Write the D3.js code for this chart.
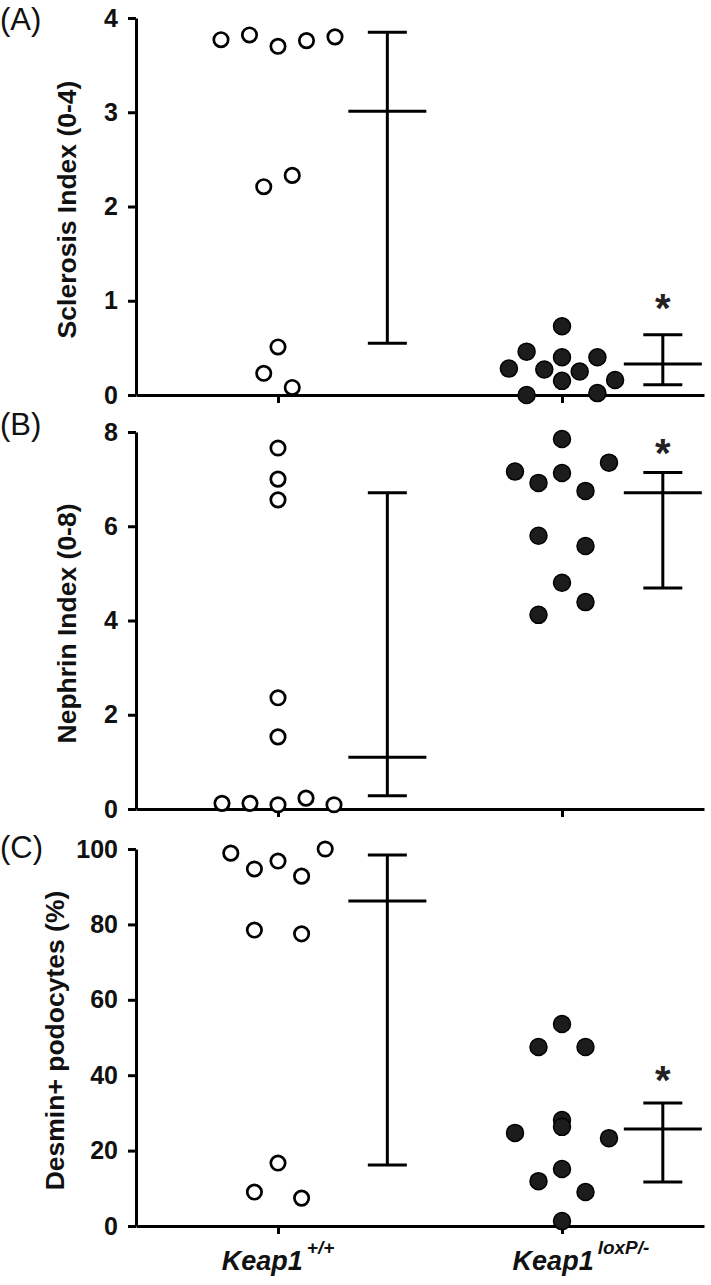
<!DOCTYPE html>
<html><head><meta charset="utf-8">
<script src="https://cdn.jsdelivr.net/npm/d3@7"></script>
<style>body{margin:0;background:#fff}svg{display:block}</style>
</head><body>
<svg id="chart" width="711" height="1285"></svg>
<script>
// ---------- data ----------
const groups = ["Keap1", "Keap1"];
const groupSup = ["+/+", "loxP/-"];
const panelLabels = ["(A)", "(B)", "(C)"];
const yTitles = ["Sclerosis Index (0-4)", "Nephrin Index (0-8)", "Desmin+ podocytes (%)"];
const ticksA = [0, 1, 2, 3, 4];
const ticksB = [0, 2, 4, 6, 8];
const ticksC = [0, 20, 40, 60, 80, 100];

// (A) Sclerosis index
const sclerosisWT = [3.77, 3.82, 3.70, 3.76, 3.80, 2.21, 2.33, 0.51, 0.23, 0.08];
const sclerosisWTSlot = [-2, -1, 0, 1, 2, -0.5, 0.5, 0, -0.5, 0.5];
const sclerosisKO = [0.73, 0.46, 0.40, 0.40, 0.28, 0.27, 0.25, 0.15, 0.16, 0.00, 0.02];
const sclerosisKOSlot = [0, -2, 0, 2, -3, -1, 1, 0, 3, -2, 2];
const sclerosisSummary = [[3.01, 0.55, 3.85], [0.33, 0.11, 0.64]]; // mean, low, high

// (B) Nephrin index
const nephrinWT = [7.66, 7.00, 6.56, 2.36, 1.53, 0.12, 0.12, 0.09, 0.23, 0.09];
const nephrinWTSlot = [0, 0, 0, 0, 0, -2, -1, 0, 1, 2];
const nephrinKO = [7.85, 7.16, 7.13, 7.35, 6.92, 6.75, 5.80, 5.58, 4.80, 4.39, 4.12];
const nephrinKOSlot = [0, -2, 0, 2, -1, 1, -1, 1, 0, 1, -1];
const nephrinSummary = [[1.10, 0.28, 6.71], [6.71, 4.69, 7.14]];

// (C) Desmin+ podocytes
const desminWT = [98.9, 94.7, 96.8, 92.8, 100, 78.5, 77.5, 16.7, 9.0, 7.4];
const desminWTSlot = [-2, -1, 0, 1, 2, -1, 1, 0, -1, 1];
const desminKO = [53.6, 47.5, 47.5, 24.7, 28.1, 26.3, 23.3, 15.1, 11.9, 9.0, 1.3];
const desminKOSlot = [0, -1, 1, -2, 0, 0, 2, 0, -1, 1, 0];
const desminSummary = [[86.2, 16.2, 98.4], [25.7, 11.7, 32.6]];

const significant = [false, true];

// ---------- layout ----------
const FONT = "'Liberation Sans', Arial, Helvetica, sans-serif";
const svg = d3.select("#chart");
const x = d3.scaleLinear().domain([-0.5, 1.5]).range([136, 704]);
const summaryX = [0.385, 1.355];

const panels = [
  {label: panelLabels[0], title: yTitles[0], ticks: ticksA, domain: [0, 4], range: [395, 18],
   wt: sclerosisWT, wtSlot: sclerosisWTSlot, ko: sclerosisKO, koSlot: sclerosisKOSlot,
   summary: sclerosisSummary, wtStep: 28.5, koStep: 17.7, labelY: 30, titleX: 67, starY: 322},
  {label: panelLabels[1], title: yTitles[1], ticks: ticksB, domain: [0, 8], range: [809, 432],
   wt: nephrinWT, wtSlot: nephrinWTSlot, ko: nephrinKO, koSlot: nephrinKOSlot,
   summary: nephrinSummary, wtStep: 28, koStep: 23.5, labelY: 435, titleX: 67, starY: 467},
  {label: panelLabels[2], title: yTitles[2], ticks: ticksC, domain: [0, 100], range: [1226, 849],
   wt: desminWT, wtSlot: desminWTSlot, ko: desminKO, koSlot: desminKOSlot,
   summary: desminSummary, wtStep: 23.6, koStep: 23.5, labelY: 858, titleX: 55, starY: 1094}
];

panels.forEach((p, pi) => {
  const y = d3.scaleLinear().domain(p.domain).range(p.range);
  const g = svg.append("g");

  // y axis
  const ya = g.append("g").attr("transform", `translate(${x(-0.5)},0)`)
    .call(d3.axisLeft(y).tickValues(p.ticks).tickFormat(d3.format("d"))
      .tickSize(8).tickSizeOuter(0).tickPadding(10));
  ya.select(".domain").attr("stroke", "#000").attr("stroke-width", 3);
  ya.selectAll(".tick line").attr("stroke", "#000").attr("stroke-width", 3);
  ya.selectAll(".tick text").attr("font-family", FONT).attr("font-weight", "bold")
    .attr("font-size", 25).attr("fill", "#111");

  // x axis
  const xa = g.append("g").attr("transform", `translate(0,${y(0)})`)
    .call(d3.axisBottom(x).tickValues([0, 1]).tickSize(8).tickSizeOuter(0).tickFormat(""));
  xa.select(".domain").attr("stroke", "#000").attr("stroke-width", 3);
  xa.selectAll(".tick line").attr("stroke", "#000").attr("stroke-width", 3);

  // panel label
  g.append("text").attr("x", 0).attr("y", p.labelY).text(p.label)
    .attr("font-family", FONT).attr("font-size", 31).attr("fill", "#111");

  // y title
  const cy = (p.range[0] + p.range[1]) / 2 + 3;
  g.append("text").attr("transform", `translate(${p.titleX + 9},${cy}) rotate(-90)`)
    .attr("text-anchor", "middle").text(p.title)
    .attr("font-family", FONT).attr("font-weight", "bold").attr("font-size", 26.5).attr("fill", "#111");

  // summary bars (mean + range)
  p.summary.forEach((s, gi) => {
    const cx = x(summaryX[gi]);
    const sg = g.append("g").attr("stroke", "#000").attr("stroke-width", 3);
    sg.append("line").attr("x1", cx).attr("x2", cx).attr("y1", y(s[1])).attr("y2", y(s[2]));
    sg.append("line").attr("x1", cx - 19.5).attr("x2", cx + 19.5).attr("y1", y(s[1])).attr("y2", y(s[1]));
    sg.append("line").attr("x1", cx - 19.5).attr("x2", cx + 19.5).attr("y1", y(s[2])).attr("y2", y(s[2]));
    sg.append("line").attr("x1", cx - 39).attr("x2", cx + 39).attr("y1", y(s[0])).attr("y2", y(s[0]));
    if (significant[gi]) {
      g.append("text").attr("x", cx).attr("y", p.starY).attr("text-anchor", "middle").text("*")
        .attr("font-family", FONT).attr("font-weight", "bold").attr("font-size", 40).attr("fill", "#222");
    }
  });

  // WT open circles
  g.append("g").selectAll("circle").data(p.wt).join("circle")
    .attr("cx", (d, i) => x(0) + p.wtSlot[i] * p.wtStep)
    .attr("cy", d => y(d)).attr("r", 7.2)
    .attr("fill", "#fff").attr("stroke", "#000").attr("stroke-width", 2.7);

  // KO filled circles
  g.append("g").selectAll("circle").data(p.ko).join("circle")
    .attr("cx", (d, i) => x(1) + p.koSlot[i] * p.koStep)
    .attr("cy", d => y(d)).attr("r", 8.5)
    .attr("fill", "#1c1c1c").attr("stroke", "#000").attr("stroke-width", 1.5);
});

// x category labels (bottom)
const labelDx = [0, 19];
groups.forEach((name, i) => {
  const t = svg.append("text").attr("x", x(i) + labelDx[i]).attr("y", 1270)
    .attr("text-anchor", "middle").attr("font-family", FONT)
    .attr("font-weight", "bold").attr("font-style", "italic").attr("fill", "#111");
  t.append("tspan").attr("font-size", 27).text(name);
  t.append("tspan").attr("font-size", 19).attr("dx", 4).attr("dy", -16).text(groupSup[i]);
});
</script>
</body></html>
